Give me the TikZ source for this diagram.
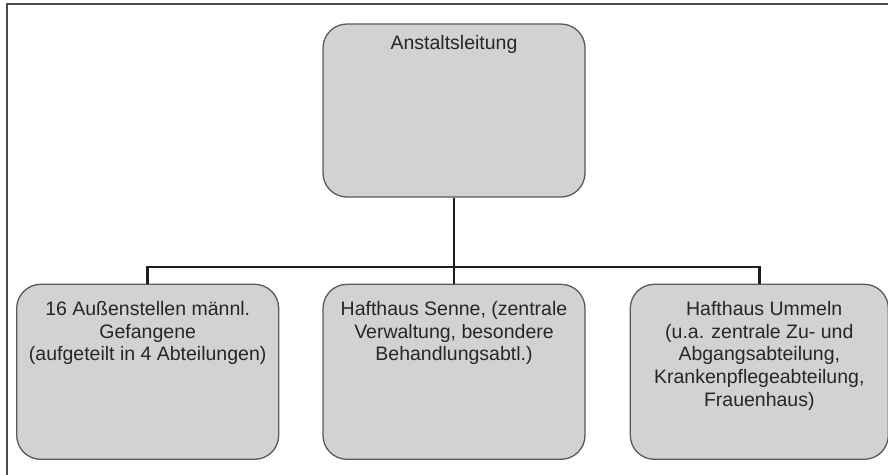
\documentclass[tikz,border=0pt]{standalone}
\usepackage{fontspec}
\setmainfont{Liberation Sans}
\usetikzlibrary{positioning}
\definecolor{orgfill}{HTML}{D1D2D4}
\definecolor{orgedge}{HTML}{5A5A5A}
\definecolor{orgline}{HTML}{1E1E1E}
\definecolor{orgframe}{HTML}{4A4A4A}
% top-aligned text block: height, top gap, lines
\newcommand{\boxtext}[3]{\parbox[c][#1][t]{250pt}{\centering\vspace*{#2}#3}}

\begin{document}
\begin{tikzpicture}[
    x=1pt,y=-1pt,
    orgbox/.style={draw=orgedge,line width=1.3pt,fill=orgfill,rounded corners=24pt,inner sep=0pt,minimum width=262pt,font=\fontsize{19.5}{22.7}\selectfont,text=black!85},
    conn/.style={draw=orgline,line width=2.8pt},
    frameline/.style={draw=orgframe,line width=1.8pt}
  ]
    \useasboundingbox (0,0) rectangle (888,474);
    \draw[frameline] (890,4) -- (7,4) -- (7,476);

    % TOP
    \node[orgbox] (leitung) at (454,110.5) {\boxtext{173pt}{11pt}{Anstaltsleitung}};

    % UNITS
    \node[orgbox,below=86pt of leitung] (senne) {\boxtext{175pt}{17pt}{Hafthaus Senne, (zentrale\\Verwaltung, besondere\\Behandlungsabtl.)}};
    \node[orgbox,left=43pt of senne] (aussen) {\boxtext{175pt}{17pt}{16 Außenstellen männl.\\Gefangene\\(aufgeteilt in 4 Abteilungen)}};
    \node[orgbox,right=44pt of senne,minimum width=258pt] (ummeln) {\boxtext{175pt}{17pt}{\hspace*{0.5em}Hafthaus Ummeln\\(u.a. zentrale Zu- und\\Abgangsabteilung,\\Krankenpflegeabteilung,\\Frauenhaus)}};

    % Connectors
    \coordinate (fork) at (454,267);
    \draw[conn] (leitung.south) -- (fork);
    \draw[conn] (fork) -| (aussen.north);
    \draw[conn] (fork) -- (senne.north);
    \draw[conn] (fork) -| (ummeln.north);
  \end{tikzpicture}
\end{document}
